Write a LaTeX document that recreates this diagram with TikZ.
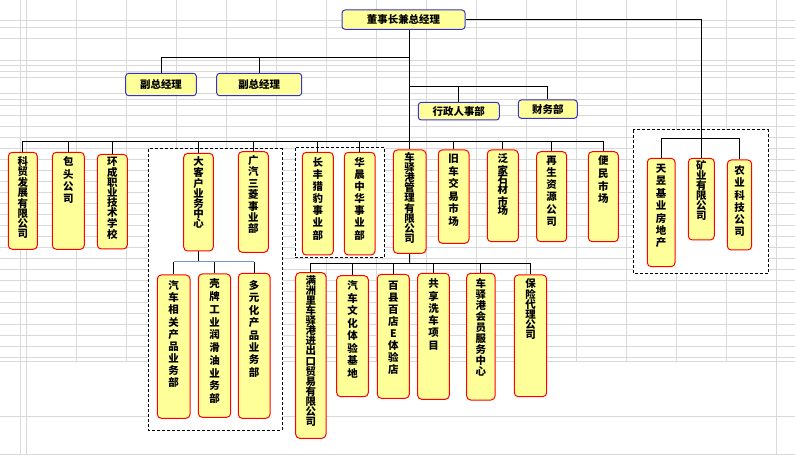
\documentclass[tikz,border=0pt]{standalone}
\usepackage{fontspec}
\newfontfamily\cjk{Noto Sans CJK SC}
\definecolor{boxfill}{HTML}{FFFF99}
\definecolor{gridc}{HTML}{D9D9D9}
\definecolor{tborder}{HTML}{3333CC}
\definecolor{bline}{HTML}{7397CC}
\pgfdeclarelayer{bg}
\pgfsetlayers{bg,main}
\tikzset{
  rbox/.style={draw=red, fill=boxfill, rounded corners=4bp, line width=1bp, inner sep=0pt},
  tbox/.style={draw=tborder, fill=boxfill, rounded corners=3bp, line width=1bp, inner sep=0pt,
               font=\cjk\bfseries\fontsize{10.5}{12}\selectfont},
  vtxt/.style={anchor=north, align=center, inner sep=0pt, text=black},
  conn/.style={draw=black, line width=0.9bp},
  gridline/.style={draw=gridc, line width=0.7bp},
  dbox/.style={draw=black, dash pattern=on 3bp off 2bp, line width=1bp, fill=white},
}
\newcommand\obox[8]{%
  \node[rbox, minimum width={(#4-#2)*1bp}, minimum height={(#5-#3)*1bp}] (#1) at ({(#2+#4)/2},{(#3+#5)/2}) {};
  \node[vtxt, font={\cjk\bfseries\fontsize{10.5}{#6}\selectfont}] (#1-t) at ([yshift={-(#7-0.8)*1bp}]#1.north) {#8};}
\newcommand\tbx[6]{%
  \node[tbox, minimum width={(#4-#2)*1bp}, minimum height={(#5-#3)*1bp}] (#1) at ({(#2+#4)/2},{(#3+#5)/2}) {#6};}
\begin{document}
\begin{tikzpicture}[x=1bp,y=-1bp]
\useasboundingbox (0,0) rectangle (795,455);
% top level boxes
\tbx{dsz}{342}{10}{465}{29.3}{董事长兼总经理}
\tbx{fz1}{125.7}{73.3}{196.3}{95.7}{副总经理}
\tbx{fz2}{216.7}{73.3}{301.7}{95.7}{副总经理}
\tbx{xz}{418.3}{102.3}{499.3}{120}{行政人事部}
\tbx{cw}{518.3}{100}{577.3}{118.3}{财务部}
% first row
\obox{km}{8.3}{152.3}{37.3}{249.3}{10}{5.7}{科\\贸\\发\\展\\有\\限\\公\\司}
\obox{bt}{52.3}{152.3}{84.3}{249.3}{12.4}{5.7}{包\\头\\公\\司}
\obox{hc}{97.3}{154.3}{127.3}{249}{10}{4}{环\\成\\职\\业\\技\\术\\学\\校}
\obox{dkh}{183.7}{153.3}{213.3}{251}{10}{4.7}{大\\客\\户\\业\\务\\中\\心}
\obox{gq}{238.3}{151.7}{268.3}{252.3}{11.4}{5}{广\\汽\\三\\菱\\事\\业\\部}
\obox{cf}{302.3}{152.3}{333.3}{255}{12.2}{6}{长\\丰\\猎\\豹\\事\\业\\部}
\obox{hcz}{344.3}{152.3}{375}{255}{12.2}{6}{华\\晨\\中\\华\\事\\业\\部}
\obox{cyg}{393.3}{150}{426}{253.3}{10.2}{3.3}{车\\驿\\港\\管\\理\\有\\限\\公\\司}
\obox{jc}{438.3}{150}{469}{243.3}{12.6}{5}{旧\\车\\交\\易\\市\\场}
\obox{fj}{487.3}{150}{518.3}{241.7}{10}{5}{泛\\家\\石\\材\\市\\场}
\obox{zs}{536.7}{151.7}{566.7}{241.7}{12.3}{5}{再\\生\\资\\源\\公\\司}
\obox{bm}{588.3}{151.7}{618.3}{241.7}{12.8}{5}{便\\民\\市\\场}
\obox{ty}{647.3}{158.3}{675}{266.7}{12.5}{6.7}{天\\昱\\基\\业\\房\\地\\产}
\obox{ky}{688.3}{158.3}{714.3}{240}{10}{3.4}{矿\\业\\有\\限\\公\\司}
\obox{ny}{727.3}{160}{751.7}{250}{12.3}{6.7}{农\\业\\科\\技\\公\\司}
% second row
\obox{qc}{157.3}{275}{190}{418.3}{12.2}{6.7}{汽\\车\\相\\关\\产\\品\\业\\务\\部}
\obox{kp}{198.3}{274}{230.7}{417.3}{12.8}{6}{壳\\牌\\工\\业\\润\\滑\\油\\业\\务\\部}
\obox{dy}{238.3}{273.3}{270}{418.3}{12.4}{8.4}{多\\元\\化\\产\\品\\业\\务\\部}
\obox{mzl}{295.7}{272.7}{326}{438.3}{10.1}{4}{满\\洲\\里\\车\\驿\\港\\进\\出\\口\\贸\\易\\有\\限\\公\\司}
\obox{qw}{336.7}{275.7}{368.3}{396.7}{12.6}{6}{汽\\车\\文\\化\\体\\验\\基\\地}
\obox{bx}{377.3}{274.3}{409.3}{398.3}{12.1}{7.4}{百\\县\\百\\店\\E\\体\\验\\店}
\obox{gx}{417.7}{273.3}{449.3}{399.3}{12.3}{6.7}{共\\享\\洗\\车\\项\\目}
\obox{hy}{466.7}{273.3}{495}{400}{11}{6.7}{车\\驿\\港\\会\\员\\服\\务\\中\\心}
\obox{bxd}{514.3}{275}{546.7}{396.7}{10}{5}{保\\险\\代\\理\\公\\司}
% named junctions
\coordinate (vpbar) at (409.7,57.3);
\coordinate (adbar) at (409.7,86.3);
\coordinate (mbar) at (409.7,141.3);
\coordinate (rbar) at (701.3,138.3);
\coordinate (dkbar) at (198.5,261.7);
\coordinate (cybar) at (409.7,263.3);
\begin{pgfonlayer}{bg}
\fill[white] (0,0) rectangle (795,455);
% spreadsheet grid
\foreach \y in {20.7,27.3,38.3,60.7,65.7,71.7,77.3,93.3,99.3,105,115,126,137,148,159,170,181,192.5,203.5,214.5,225.5,236.5,247.5,258.5,269.5,280.5,291.5,302.5,313.5,324.5,335.5,346.5,357.5,361,416,454}
  \draw[gridline] (0,\y) -- (795,\y);
\foreach \x in {20.7,26}
  \draw[gridline] (\x,0) -- (\x,455);
\foreach \x in {76.7,126.7,176.7,226.7,276.7,326.7,376.7,426.7,476.7,526.7,576.7,626.7,676.7,726.7}
  \draw[gridline] (\x,0) -- (\x,361);
\draw[gridline] (776.7,0) -- (776.7,455);
% dashed group frames
\draw[dbox] (148,149) rectangle (282,430);
\draw[dbox] (295,147.7) rectangle (384.3,257.7);
\draw[dbox] (633.3,130) rectangle (768.3,273.5);
% connectors
\draw[conn] (dsz.south -| cyg.north) -- (cyg.north);
\draw[conn] (fz1.north) |- (vpbar);
\draw[conn] (fz2.north) -- (fz2.north |- vpbar);
\draw[conn] (xz.north) |- (adbar) -| (cw.north);
\draw[conn] (km.north |- mbar) -- (bm.north |- mbar);
\foreach \n in {km,bt,hc,dkh,gq,cf,hcz,jc,fj,zs,bm}
  \draw[conn] (\n.north) -- (\n.north |- mbar);
\draw[conn] (dsz.east) -| (ky.north);
\draw[conn] (ty.north) |- (rbar) -| (ny.north);
\draw[conn] (dkh.south) -- (dkbar);
\foreach \n in {qc,kp,dy}
  \draw[conn] (\n.north) -- (\n.north |- dkbar);
\draw[conn, draw=bline] (qc.north |- dkbar) -- (dy.north |- dkbar);
\draw[conn] (cyg.south) -- (cybar);
\draw[conn] (mzl.north |- cybar) -- (bxd.north |- cybar);
\foreach \n in {mzl,qw,bx,gx,hy,bxd}
  \draw[conn] (\n.north) -- (\n.north |- cybar);
\end{pgfonlayer}
\end{tikzpicture}
\end{document}
